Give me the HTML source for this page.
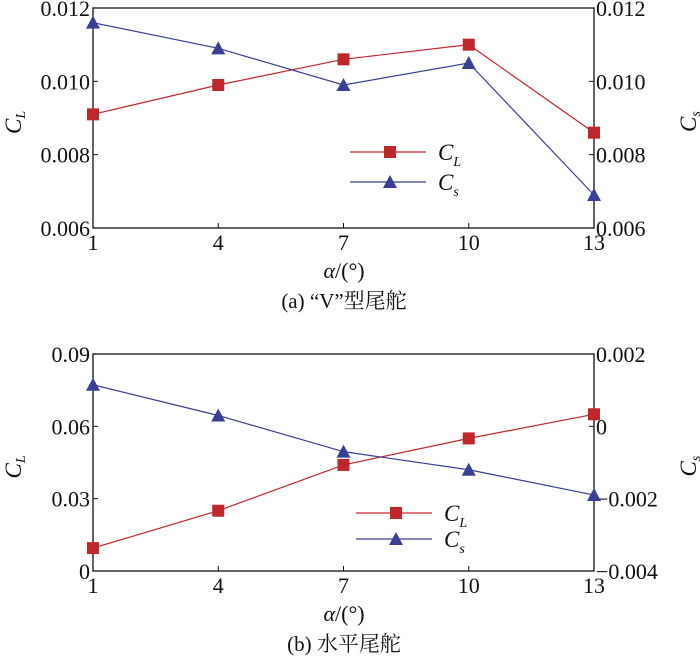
<!DOCTYPE html>
<html><head><meta charset="utf-8"><style>
body{margin:0;background:#fff}
text{font-family:"Liberation Serif","Noto Serif CJK SC",serif;fill:#111}
</style></head><body>
<svg id="s" width="700" height="662" xmlns="http://www.w3.org/2000/svg"></svg>
<script>
const xCats=[1,4,7,10,13];
const aCL=[0.0091,0.0099,0.0106,0.0110,0.0086];
const aCs=[0.0116,0.0109,0.0099,0.0105,0.0069];
const aLTicks=[0.006,0.008,0.010,0.012];
const aLLabels=["0.006","0.008","0.010","0.012"];
const aRTicks=[0.006,0.008,0.010,0.012];
const aRLabels=["0.006","0.008","0.010","0.012"];
const bCL=[0.0095,0.025,0.044,0.055,0.065];
const bCs=[0.00115,0.0003,-0.0007,-0.0012,-0.0019];
const bLTicks=[0,0.03,0.06,0.09];
const bLLabels=["0","0.03","0.06","0.09"];
const bRTicks=[-0.004,-0.002,0,0.002];
const bRLabels=["\u22120.004","\u22120.002","0","0.002"];
const S=document.getElementById('s');
const NS="http://www.w3.org/2000/svg";
function mk(t,a,p){const e=document.createElementNS(NS,t);for(const k in a)e.setAttribute(k,a[k]);(p||S).appendChild(e);return e;}
function chart(id,top,bot,cl,cs,lt,ll,rt,rl,lg,caption){
 const g=mk('g',{});
 
 
 const L=93,R=594;
 const x=v=>L+(v-1)/12*(R-L);
 const yl=v=>bot-(v-lt[0])/(lt[lt.length-1]-lt[0])*(bot-top);
 const yr=v=>bot-(v-rt[0])/(rt[rt.length-1]-rt[0])*(bot-top);
 const fr=mk('rect',{x:L,y:top,width:R-L,height:bot-top,fill:'none',stroke:'#111','stroke-width':1.3},g);
 
 
 xCats.forEach(c=>{mk('line',{x1:x(c),x2:x(c),y1:bot,y2:bot-5,stroke:'#111'},g);
  const t=mk('text',{x:x(c),y:bot+22,'text-anchor':'middle','font-size':22},g);t.textContent=c;
  
  });
 lt.forEach((v,i)=>{mk('line',{x1:L,x2:L+5,y1:yl(v),y2:yl(v),stroke:'#111'},g);
  const t=mk('text',{x:L-3,y:yl(v)+8,'text-anchor':'end','font-size':22},g);t.textContent=ll[i];
  
  });
 rt.forEach((v,i)=>{mk('line',{x1:R,x2:R-5,y1:yr(v),y2:yr(v),stroke:'#111'},g);
  const t=mk('text',{x:R+2,y:yr(v)+8,'font-size':22},g);t.textContent=rl[i];
  
  });
 const mid=(top+bot)/2;
 let t=mk('text',{x:0,y:0,'font-size':23,'font-style':'italic',transform:`translate(21,${mid+16}) rotate(-90)`},g);
 t.innerHTML='C<tspan font-size="14" dy="4">L</tspan>';
 
 
 t=mk('text',{x:0,y:0,'font-size':23,'font-style':'italic',transform:`translate(696,${mid+14}) rotate(-90)`},g);
 t.innerHTML='C<tspan font-size="14" dy="4">s</tspan>';
 
 
 t=mk('text',{x:344,y:bot+50,'text-anchor':'middle','font-size':22},g);
 t.innerHTML='<tspan font-style="italic">α</tspan>/(°)';
 
 
 t=mk('text',{x:344,y:bot+80,'text-anchor':'middle','font-size':21},g);
 t.textContent=caption;
 
 
 const red='#c0272d',blue='#3a3f96';
 const p1=mk('polyline',{points:cl.map((v,i)=>x(xCats[i])+','+yl(v)).join(' '),fill:'none',stroke:red,'stroke-width':1.2},g);
 
 
 const p2=mk('polyline',{points:cs.map((v,i)=>x(xCats[i])+','+yr(v)).join(' '),fill:'none',stroke:blue,'stroke-width':1.2},g);
 
 
 const sq=(cx,cy)=>mk('rect',{x:cx-6,y:cy-6,width:12,height:12,fill:red},g);
 const tri=(cx,cy)=>mk('polygon',{points:`${cx},${cy-7} ${cx-7},${cy+6} ${cx+7},${cy+6}`,fill:blue},g);
 cl.forEach((v,i)=>{const m=sq(x(xCats[i]),yl(v));});
 cs.forEach((v,i)=>{const m=tri(x(xCats[i]),yr(v));});
 mk('line',{x1:lg[0],x2:lg[0]+76,y1:lg[1],y2:lg[1],stroke:red,'stroke-width':1.2},g);
 let m=sq(lg[0]+40,lg[1]);
 mk('line',{x1:lg[0],x2:lg[0]+76,y1:lg[2],y2:lg[2],stroke:blue,'stroke-width':1.2},g);
 m=tri(lg[0]+40,lg[2]);
 t=mk('text',{x:lg[0]+88,y:lg[1]+8,'font-size':23,'font-style':'italic'},g);
 t.innerHTML='C<tspan font-size="14" dy="6">L</tspan>';
 
 
 t=mk('text',{x:lg[0]+88,y:lg[2]+8,'font-size':23,'font-style':'italic'},g);
 t.innerHTML='C<tspan font-size="14" dy="6">s</tspan>';
 
 
}
chart('chart-v-rudder',8,228,aCL,aCs,aLTicks,aLLabels,aRTicks,aRLabels,[350,152,182],'(a) “V”型尾舵');
chart('chart-horizontal-rudder',354,571,bCL,bCs,bLTicks,bLLabels,bRTicks,bRLabels,[356,513,539],'(b) 水平尾舵');
</script>
</body></html>
